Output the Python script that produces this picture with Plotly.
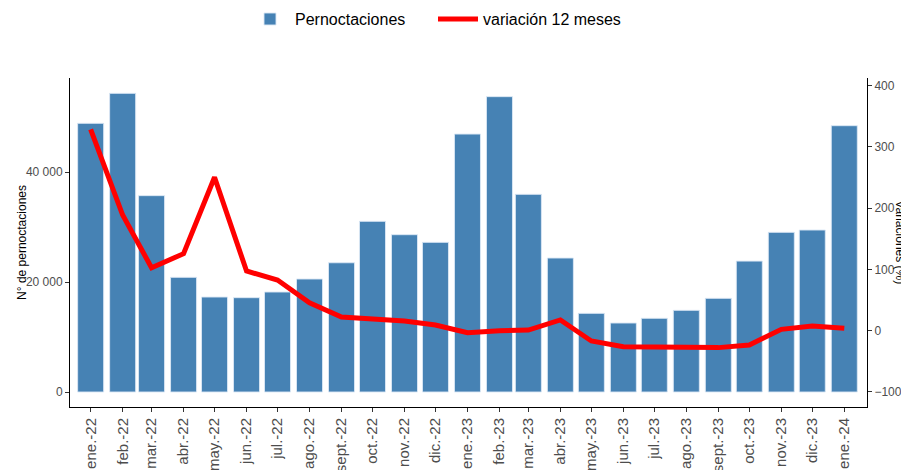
import plotly.graph_objects as go

months = ["2022-01-01", "2022-02-01", "2022-03-01", "2022-04-01", "2022-05-01", "2022-06-01",
          "2022-07-01", "2022-08-01", "2022-09-01", "2022-10-01", "2022-11-01", "2022-12-01",
          "2023-01-01", "2023-02-01", "2023-03-01", "2023-04-01", "2023-05-01", "2023-06-01",
          "2023-07-01", "2023-08-01", "2023-09-01", "2023-10-01", "2023-11-01", "2023-12-01",
          "2024-01-01"]
tick_labels = ["ene.-22", "feb.-22", "mar.-22", "abr.-22", "may.-22", "jun.-22", "jul.-22",
               "ago.-22", "sept.-22", "oct.-22", "nov.-22", "dic.-22", "ene.-23", "feb.-23",
               "mar.-23", "abr.-23", "may.-23", "jun.-23", "jul.-23", "ago.-23", "sept.-23",
               "oct.-23", "nov.-23", "dic.-23", "ene.-24"]
pernoctaciones = [48850, 54300, 35700, 20850, 17270, 17150, 18180, 20545, 23500, 31030, 28600,
                  27210, 46900, 53700, 35940, 24360, 14300, 12545, 13400, 14850, 17030, 23800,
                  29030, 29450, 48420]
variacion = [328.7, 188.8, 102.8, 125.7, 250.4, 97.4, 82.7, 45.7, 22.4, 19.6, 15.8, 9.3,
             -3.3, 0.0, 1.0, 17.5, -16.8, -26.0, -26.0, -27.6, -27.6, -23.3, 2.2, 7.7, 3.9]

DAY_MS = 86400000
bar_width = 25.2 * DAY_MS

fig = go.Figure()
fig.add_trace(go.Bar(
    x=months, y=pernoctaciones, name="Pernoctaciones",
    width=[bar_width] * len(months),
    marker=dict(color="#4682B4", line=dict(color="rgba(220,232,245,0.9)", width=1)),
    yaxis="y",
))
fig.add_trace(go.Scatter(
    x=months, y=variacion, name="variación 12 meses", mode="lines",
    line=dict(color="#FF0000", width=5),
    yaxis="y2",
))

axis_font = dict(family="Liberation Sans, Arial, sans-serif", color="#4d4d4d")

# the page body has an 8px margin, so the figure is sized 8px smaller on each axis
fig.update_layout(
    width=901, height=462,
    margin=dict(l=62, r=42, t=70, b=63, autoexpand=False),
    paper_bgcolor="white", plot_bgcolor="white",
    separators=", ",
    showlegend=True,
    legend=dict(orientation="h", xref="container", yref="container",
                x=0.4717, xanchor="center", y=0.976, yanchor="middle",
                font=dict(family="Liberation Sans, Arial, sans-serif", size=16, color="black"),
                itemwidth=40, entrywidth=133, entrywidthmode="pixels", traceorder="normal"),
    xaxis=dict(
        type="date", automargin=False,
        range=["2021-12-12", "2024-01-23"],
        tickmode="array", tickvals=months, ticktext=tick_labels,
        tickangle=-90,
        tickfont=dict(size=15, **axis_font),
        ticks="outside", ticklen=4, tickcolor="#333333",
        showline=True, linecolor="black", linewidth=1,
        showgrid=False, zeroline=False,
    ),
    yaxis=dict(
        automargin=False,
        range=[-2727, 57091],
        tickmode="array", tickvals=[0, 20000, 40000],
        tickformat=",d",
        tickfont=dict(size=12, **axis_font),
        ticks="outside", ticklen=4, tickcolor="#333333",
        showline=True, linecolor="black", linewidth=1,
        showgrid=False, zeroline=False,
    ),
    yaxis2=dict(
        overlaying="y", side="right", automargin=False,
        range=[-124.5, 412.4],
        tickmode="array", tickvals=[-100, 0, 100, 200, 300, 400],
        tickfont=dict(size=12, **axis_font),
        ticks="outside", ticklen=4, tickcolor="#333333",
        showline=True, linecolor="black", linewidth=1,
        showgrid=False, zeroline=False,
    ),
    annotations=[
        dict(text="N° de pernoctaciones", xref="paper", yref="paper",
             x=-0.061, y=0.5, xanchor="center", yanchor="middle", textangle=-90,
             showarrow=False, font=dict(family="Liberation Sans, Arial, sans-serif", size=12, color="black")),
        dict(text="Variaciones (%)", xref="paper", yref="paper",
             x=1.0415, y=0.5, xanchor="center", yanchor="middle", textangle=90,
             showarrow=False, font=dict(family="Liberation Sans, Arial, sans-serif", size=12, color="black")),
    ],
)

fig.write_html("out.html")
